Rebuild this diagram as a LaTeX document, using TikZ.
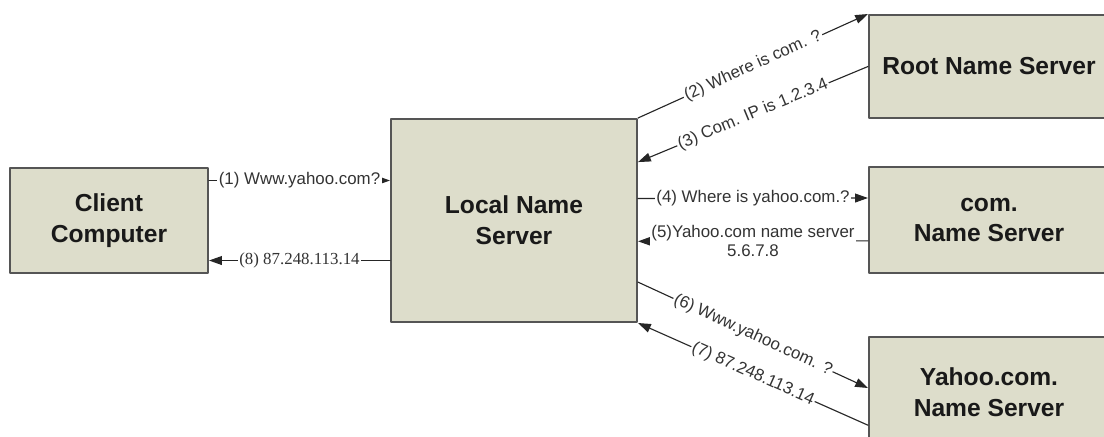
\documentclass[tikz,border=0pt]{standalone}
\usepackage{fontspec}
\setmainfont{Liberation Sans}
\newfontfamily\timesfont{Liberation Serif}
\usetikzlibrary{arrows.meta}
\definecolor{boxfill}{HTML}{DDDDCB}
\definecolor{boxline}{HTML}{555555}
\definecolor{msgtext}{HTML}{333333}
\begin{document}
\begin{tikzpicture}[x=0.025cm,y=-0.025cm,line cap=round,line join=round,font=\fontsize{12}{13.5}\selectfont]
	\useasboundingbox (0,0) rectangle (1104,436);
	\clip (0,0) rectangle (1104,436);
	\tikzset{srv/.style={draw=boxline,line width=1.4pt,fill=boxfill,align=center,text=black!90,font=\fontsize{17.5}{22}\selectfont\bfseries},
		msg/.style={-{Triangle[length=3.2mm,width=2.2mm]},draw=black!85,line width=0.8pt},
		lbl/.style={midway,fill=white,text=msgtext,inner sep=1pt,align=center}}
	\node[srv,minimum width=4.95cm,minimum height=2.625cm] (client) at (109,220.5) {Client\\Computer};
	\node[srv,minimum width=6.15cm,minimum height=5.075cm] (local) at (514,220.5) {Local Name\\Server};
	\foreach \nm/\y/\h/\txt in {root/66.5/2.575/{Root Name Server},com/220/2.65/{com.\\Name Server},yahoo/392/2.75/{Yahoo.com.\\Name Server}}{\node[srv,minimum width=6cm,minimum height=\h cm] (\nm) at (989,\y) {\txt};}
	\draw[msg] ([yshift=1cm]client.east) -- ([yshift=1cm]local.west) node[lbl] {(1) Www.yahoo.com?};
	\draw[msg] (local.north east) -- (root.north west) node[lbl,sloped] {(2) Where is com. ?};
	\draw[msg] (root.west) -- ([yshift=1.46cm]local.east) node[lbl,sloped] {(3) Com. IP is 1.2.3.4};
	\draw[msg] ([yshift=0.55cm]local.east) -- ([yshift=0.55cm]com.west) node[lbl] {(4) Where is yahoo.com.?};
	\draw[msg] ([yshift=-0.52cm]com.west) -- ([yshift=-0.52cm]local.east) node[lbl] {(5)Yahoo.com name server\\5.6.7.8};
	\draw[msg] ([yshift=-1.54cm]local.east) -- ([yshift=0.1cm]yahoo.west) node[lbl,sloped] {(6) Www.yahoo.com. ?};
	\draw[msg] ([yshift=-0.83cm]yahoo.west) -- (local.south east) node[lbl,sloped] {(7) 87.248.113.14};
	\draw[msg] ([yshift=-1cm]local.west) -- ([yshift=-1cm]client.east) node[lbl,font=\timesfont\fontsize{12}{13.5}\selectfont] {(8) 87.248.113.14};
\end{tikzpicture}
\end{document}
